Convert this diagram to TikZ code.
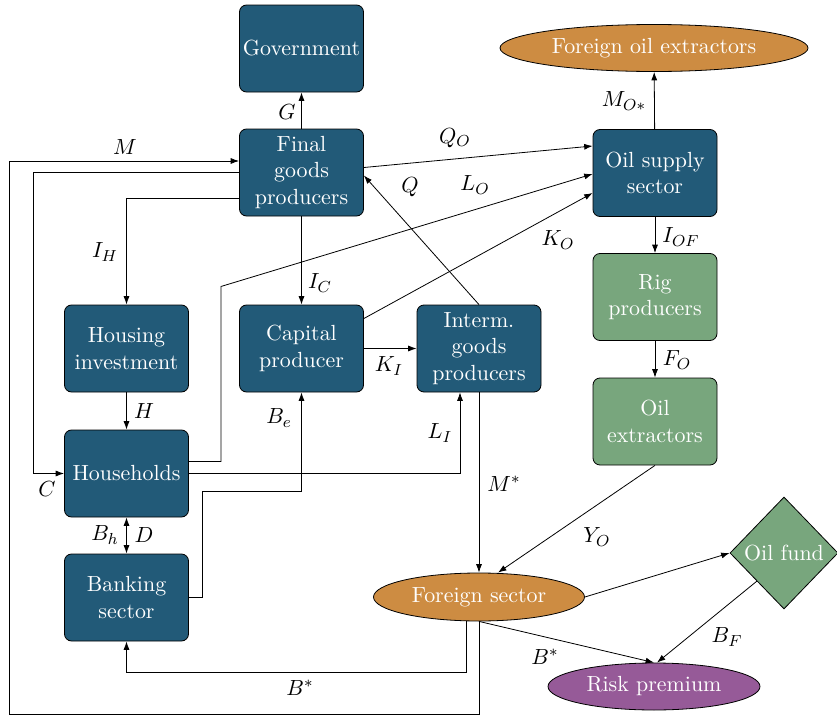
\documentclass[tikz,border=0pt]{standalone}
\usetikzlibrary{arrows.meta,shapes.geometric,calc}
\definecolor{cblue}{RGB}{34,90,120}
\definecolor{cgreen}{RGB}{120,166,125}
\definecolor{corange}{RGB}{205,140,66}
\definecolor{cpurple}{RGB}{150,90,152}
\newcommand\myfs{\fontsize{10.95}{13.2}\selectfont}
\tikzset{
  every node/.style={font=\myfs},
  box/.style={rectangle, rounded corners=3.5pt, draw=black, fill=cblue, text=white,
    minimum width=62pt, minimum height=43.5pt, align=center, inner sep=1pt},
  gbox/.style={box, fill=cgreen},
  oval/.style={ellipse, draw=black, fill=corange, text=white, inner sep=0pt},
  lbl/.style={inner sep=0pt},
  arr/.style={-{Latex[length=4.2pt,width=3pt]}, line width=0.4pt},
  darr/.style={{Latex[length=4.2pt,width=3pt]}-{Latex[length=4.2pt,width=3pt]}, line width=0.4pt},
}
\begin{document}
\begin{tikzpicture}[x=0.5pt,y=-0.5pt]
\useasboundingbox (0,0) rectangle (837,718);
% nodes
\node[box] (gov) at (301.5,48.5) {Government};
\node[box] (F) at (301.5,172.5) {Final\\goods\\producers};
\node[oval, minimum width=154pt, minimum height=23.5pt] (foe) at (654,48) {Foreign oil extractors};
\node[box] (oss) at (655,173) {Oil supply\\sector};
\node[gbox] (rig) at (655,297) {Rig\\producers};
\node[gbox] (ox) at (655,421.5) {Oil\\extractors};
\node[box] (hi) at (126.5,348.5) {Housing\\investment};
\node[box] (cp) at (301.5,348.5) {Capital\\producer};
\node[box] (ig) at (479,348.5) {Interm.\\goods\\producers};
\node[box] (hh) at (126.5,473.5) {Households};
\node[box] (bk) at (126.5,597.5) {Banking\\sector};
\node[oval, minimum width=105.5pt, minimum height=24pt] (fs) at (479,597) {Foreign sector};
\node[diamond, draw=black, fill=cgreen, text=white, inner sep=0pt,
  minimum width=54pt, minimum height=56pt] (of) at (784,553) {Oil fund};
\node[oval, fill=cpurple, minimum width=106pt, minimum height=23.5pt] (rp) at (654,686.5) {Risk premium};
% connectors
\draw[arr] (F) -- (gov);
\draw[arr] ($(F.east)+(0,-5)$) -- ($(oss.west)+(0,-27)$);
\draw[arr] ($(hh.east)+(0,-12)$) -- ++(32,0) -- ++(0,-175) -- ($(oss.west)+(0,1)$);
\draw[arr] ($(cp.east)+(0,-30)$) -- ($(oss.west)+(0,20)$);
\draw[arr] (ig.north) -- ($(F.east)+(0,3)$);
\draw[arr] (fs.south) -- ++(0,93) -| (9,161) -- ($(F.west)+(0,-11.5)$);
\draw[arr] (F.west) -| (33,473.5) -- (hh.west);
\draw[arr] ($(F.west)+(0,25.5)$) -| (hi.north);
\draw[arr] (F) -- (cp);
\draw[arr] (hi) -- (hh);
\draw[darr] (hh) -- (bk);
\draw[arr] (bk.east) -| (202,491) -| (cp.south);
\draw[arr] (cp) -- (ig);
\draw[arr] (hh.east) -| ($(ig.south)+(-19,0)$);
\draw[arr] (ig.south) -- (fs.north);
\draw[arr] (ox.south) -- ($(fs.north)+(19,0)$);
\draw[arr] (fs.east) -- (of.west);
\draw[arr] (fs.south) -- (rp.north);
\draw[arr] (of.south west) -- ($(rp.north)+(3,0)$);
\draw[arr] ($(fs.south)+(-13,0)$) |- ($(bk.south)+(0,31)$) -- (bk.south);
\draw[arr] (oss) -- (foe);
\draw[arr] (oss) -- (rig);
\draw[arr] (rig) -- (ox);
% labels
\node[lbl] (lG) at (287,112) {$G$};
\node[lbl] (lM) at (125,147) {$M$};
\node[lbl] (lQO) at (455,138) {$Q_O$};
\node[lbl] (lQ) at (410,187) {$Q$};
\node[lbl] (lLO) at (475,185) {$L_O$};
\node[lbl] (lKO) at (558,240) {$K_O$};
\node[lbl] (lMO) at (624,101) {$M_{O*}$};
\node[lbl] (lIOF) at (681,237) {$I_{OF}$};
\node[lbl] (lIH) at (105,252) {$I_H$};
\node[lbl] (lIC) at (320,283) {$I_C$};
\node[lbl] (lKI) at (389,366) {$K_I$};
\node[lbl] (lFO) at (677,360) {$F_O$};
\node[lbl] (lH) at (144,411) {$H$};
\node[lbl] (lBe) at (279,418) {$B_e$};
\node[lbl] (lLI) at (440,433) {$L_I$};
\node[lbl] (lMs) at (504,484) {$M^*$};
\node[lbl] (lC) at (47,489) {$C$};
\node[lbl] (lYO) at (597,537) {$Y_O$};
\node[lbl] (lBh) at (105,535) {$B_h$};
\node[lbl] (lD) at (144,535) {$D$};
\node[lbl] (lBs1) at (545,657) {$B^*$};
\node[lbl] (lBs2) at (300,688) {$B^*$};
\node[lbl] (lBF) at (727,637) {$B_F$};
\end{tikzpicture}
\end{document}
